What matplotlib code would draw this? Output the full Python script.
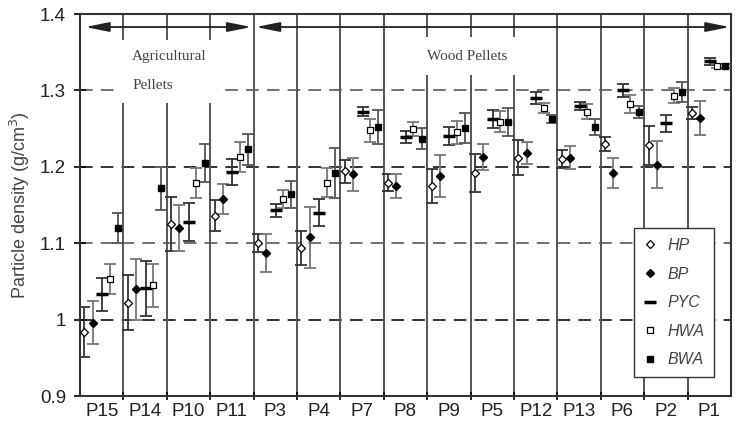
import numpy as np
import matplotlib
matplotlib.use("Agg")
import matplotlib.pyplot as plt
from matplotlib.patches import Rectangle

plt.rcParams['font.family'] = ['Liberation Sans', 'DejaVu Sans']

# pellet samples, in plotted order
samples = ['P15', 'P14', 'P10', 'P11', 'P3', 'P4', 'P7', 'P8', 'P9', 'P5',
           'P12', 'P13', 'P6', 'P2', 'P1']

# particle density (g/cm3) per method, with error half-widths
hp = [0.984, 1.022, 1.125, 1.136, 1.100, 1.094, 1.194, 1.179, 1.175, 1.192,
      1.212, 1.210, 1.230, 1.228, 1.270]
hp_err = [0.033, 0.036, 0.035, 0.020, 0.012, 0.022, 0.015, 0.011, 0.022, 0.025,
          0.023, 0.012, 0.009, 0.025, 0.008]
bp = [0.996, 1.040, 1.120, 1.158, 1.087, 1.108, 1.190, 1.175, 1.188, 1.213,
      1.218, 1.212, 1.192, 1.203, 1.264]
bp_err = [0.028, 0.040, 0.030, 0.020, 0.025, 0.040, 0.022, 0.016, 0.028, 0.017,
          0.014, 0.015, 0.020, 0.031, 0.022]
pyc = [1.033, 1.041, 1.128, 1.193, 1.143, 1.140, 1.272, 1.239, 1.240, 1.263,
       1.290, 1.280, 1.300, 1.257, 1.338]
pyc_err = [0.022, 0.036, 0.025, 0.017, 0.009, 0.018, 0.006, 0.008, 0.012, 0.012,
           0.008, 0.005, 0.008, 0.011, 0.005]
hwa = [1.053, 1.045, 1.179, 1.213, 1.158, 1.179, 1.248, 1.250, 1.245, 1.259,
       1.277, 1.272, 1.282, 1.293, 1.332]
hwa_err = [0.020, 0.028, 0.020, 0.020, 0.012, 0.019, 0.015, 0.009, 0.015, 0.014,
           0.007, 0.010, 0.012, 0.010, 0.003]
bwa = [1.120, 1.172, 1.205, 1.223, 1.164, 1.192, 1.252, 1.237, 1.251, 1.259,
       1.263, 1.252, 1.272, 1.298, 1.332]
bwa_err = [0.020, 0.028, 0.025, 0.020, 0.018, 0.033, 0.022, 0.014, 0.020, 0.018,
           0.005, 0.010, 0.008, 0.013, 0.003]

series = [
    ('HP', hp, hp_err, dict(marker='D', mfc='white', mec='black', ms=4, mew=0.9), '#333333'),
    ('BP', bp, bp_err, dict(marker='D', mfc='black', mec='black', ms=4), '#777777'),
    ('PYC', pyc, pyc_err, dict(marker='_', mec='black', ms=8, mew=2.5), '#333333'),
    ('HWA', hwa, hwa_err, dict(marker='s', mfc='white', mec='black', ms=4.5, mew=0.9), '#777777'),
    ('BWA', bwa, bwa_err, dict(marker='s', mfc='black', mec='black', ms=4.5), '#555555'),
]
offsets = [0.10, 0.29, 0.51, 0.68, 0.87]

fig = plt.figure(figsize=(7.38, 4.36), dpi=100)
ax = fig.add_axes([0.1084, 0.0917, 0.8821, 0.8761])

n = len(samples)
ax.set_xlim(0, n)
ax.set_ylim(0.9, 1.4)

# horizontal dashed grid
for yv, c in [(1.0, '#222222'), (1.1, '#666666'), (1.2, '#222222'), (1.3, '#666666')]:
    ax.axhline(yv, color=c, lw=1.3, dashes=(7, 4.5), zorder=1)

# vertical separators between samples
for i in range(1, n):
    ax.axvline(i, color='#555555', lw=1.4, zorder=1)

# white boxes behind group titles
ax.add_patch(Rectangle((0.81, 1.2835), 2.35, 0.0825, facecolor='white',
                       edgecolor='none', zorder=2))
ax.add_patch(Rectangle((7.79, 1.320), 2.39, 0.050, facecolor='white',
                       edgecolor='none', zorder=2))
ax.text(1.2, 1.344, 'Agricultural', family='Liberation Serif', fontsize=11,
        color='#444444', va='center', zorder=3)
ax.text(1.2, 1.307, 'Pellets', family='Liberation Serif', fontsize=11,
        color='#444444', va='center', zorder=3)
ax.text(8.0, 1.344, 'Wood Pellets', family='Liberation Serif', fontsize=11,
        color='#444444', va='center', zorder=3)

# double-headed arrows
arrow = dict(arrowstyle='<|-|>,head_length=0.8,head_width=0.16', color='#222222',
             lw=1.3, mutation_scale=18, shrinkA=0, shrinkB=0)
ax.annotate('', xy=(0.12, 1.383), xytext=(3.95, 1.383), arrowprops=arrow, zorder=4)
ax.annotate('', xy=(4.05, 1.383), xytext=(14.97, 1.383), arrowprops=arrow, zorder=4)

x = np.arange(n)
for (name, vals, errs, mk, ec), off in zip(series, offsets):
    ax.errorbar(x + off, vals, yerr=errs, fmt='none', ecolor=ec, elinewidth=1.3,
                capsize=4, capthick=1.3, zorder=5)
    ax.plot(x + off, vals, ls='none', label=name, zorder=6, **mk)

ax.set_yticks([0.9, 1.0, 1.1, 1.2, 1.3, 1.4])
ax.set_yticklabels(['0.9', '1', '1.1', '1.2', '1.3', '1.4'])
ax.set_xticks(x + 0.5)
ax.set_xticklabels(samples)
ax.set_xticks(np.arange(1, n), minor=True)
ax.tick_params(axis='x', which='major', length=0, labelsize=13.5, pad=5,
               labelcolor='#222222')
ax.tick_params(axis='x', which='minor', length=6, direction='inout', width=1.2)
ax.tick_params(axis='y', length=8, direction='inout', width=1.2, labelsize=13.5,
               pad=6, labelcolor='#222222')
ax.set_ylabel('Particle density (g/cm$^3$)', fontsize=13, color='#444444', labelpad=6)
for s in ax.spines.values():
    s.set_linewidth(1.5)
    s.set_color('#333333')

leg = ax.legend(loc='lower right', bbox_to_anchor=(0.974, 0.05), borderaxespad=0,
                fancybox=False, framealpha=1, edgecolor='#333333', labelspacing=0.85,
                handlelength=0.8, handletextpad=0.7, borderpad=0.6,
                prop=dict(style='italic', size=11.5))
for t in leg.get_texts():
    t.set_color('#444444')
leg.get_frame().set_linewidth(1.0)
leg.set_zorder(10)

fig.savefig('out.png', dpi=100)
